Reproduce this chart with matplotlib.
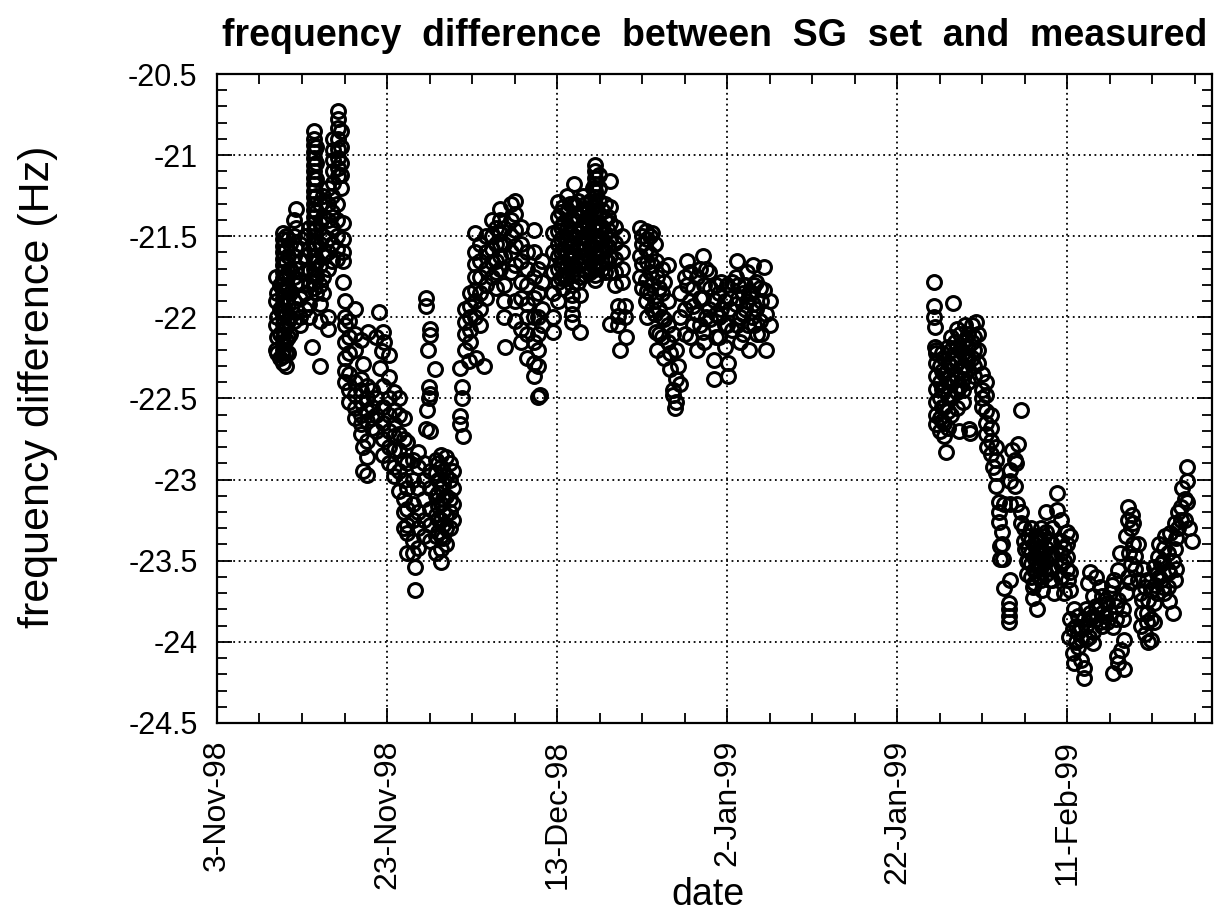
import datetime as dt

import matplotlib
matplotlib.use("Agg")
import matplotlib.pyplot as plt
from matplotlib.ticker import MultipleLocator

plt.rcParams["font.family"] = ["Liberation Sans", "DejaVu Sans"]

START = dt.datetime(1998, 11, 3)

# readings grouped by time: (days after 3-Nov-98, [frequency differences in Hz])
early_nov = [
    (6.9, [-21.75, -21.9, -22.05, -22.2]),
    (7.1, [-21.85, -22.0, -22.12, -22.22]),
    (7.4, [-21.8, -21.95, -22.1, -22.25]),
    (7.8, [-21.48, -21.52, -21.56, -21.6, -21.64, -21.68, -21.72, -21.76, -21.8, -21.84,
           -21.88, -21.92, -21.96, -22.0, -22.04, -22.08, -22.12, -22.16, -22.2, -22.24, -22.28]),
    (8.1, [-21.5, -21.58, -21.66, -21.74, -21.82, -21.9, -21.98, -22.06, -22.14, -22.22, -22.3]),
    (8.4, [-21.52, -21.62, -21.72, -21.82, -21.92, -22.02, -22.12, -22.22]),
    (8.6, [-21.55, -21.7, -21.85, -22.0, -22.1]),
    (9.0, [-21.4, -21.5, -21.62, -21.75, -21.9, -22.02]),
    (9.3, [-21.33, -21.45, -21.58, -21.7, -21.8, -21.95]),
    (9.8, [-21.55, -21.65, -21.78, -21.88, -22.0, -22.05]),
    (10.3, [-21.5, -21.62, -21.72, -21.85, -21.95]),
    (10.8, [-21.45, -21.58, -21.7, -21.8, -21.92, -22.0]),
    (11.2, [-22.18]),
    (11.4, [-20.85, -20.9, -20.94, -20.98, -21.02, -21.06, -21.1, -21.14, -21.18, -21.22,
            -21.26, -21.3, -21.34, -21.38, -21.42, -21.46, -21.5, -21.54, -21.58, -21.62,
            -21.66, -21.7, -21.74, -21.78, -21.82]),
    (11.7, [-20.95, -21.05, -21.15, -21.25, -21.35, -21.45, -21.55, -21.65, -21.75, -21.85]),
    (12.1, [-21.3, -21.42, -21.55, -21.68, -21.8, -21.92, -22.02, -22.3]),
    (12.5, [-21.25, -21.38, -21.5, -21.62, -21.75, -21.85]),
    (13.0, [-21.2, -21.3, -21.4, -21.52, -21.6, -21.7, -22.0, -22.07]),
    (13.5, [-21.25, -21.35, -21.45, -21.55, -21.65]),
    (13.7, [-20.9, -20.97, -21.03, -21.1, -21.17]),
    (14.1, [-21.3, -21.4, -21.5, -21.58, -21.64]),
    (14.2, [-20.73, -20.78, -20.83, -20.9, -20.96, -21.02, -21.08, -21.13]),
    (14.6, [-20.85, -20.95, -21.05, -21.12, -21.2]),
    (14.8, [-21.42, -21.52, -21.6, -21.65, -21.78]),
    (15.0, [-21.9]),
]

late_nov = [
    (15.0, [-22.0, -22.05, -22.15, -22.25, -22.33, -22.4]),
    (15.5, [-22.02, -22.12, -22.22, -22.35, -22.45, -22.52]),
    (16.2, [-21.95, -22.1, -22.2, -22.4, -22.48, -22.56, -22.62]),
    (16.9, [-22.14, -22.38, -22.45, -22.52, -22.6, -22.66, -22.72]),
    (17.2, [-22.29, -22.8, -22.95]),
    (17.6, [-22.42, -22.5, -22.58, -22.64, -22.76, -22.86, -22.97]),
    (17.8, [-22.09]),
    (18.2, [-22.45, -22.55, -22.62, -22.68]),
    (18.7, [-22.12, -22.5, -22.6, -22.7]),
    (19.0, [-21.97]),
    (19.2, [-22.31]),
    (19.4, [-22.21]),
    (19.5, [-22.09, -22.42, -22.55, -22.65, -22.75, -22.85]),
    (19.7, [-22.15]),
    (20.2, [-22.23, -22.37, -22.5, -22.6, -22.7, -22.8, -22.9]),
    (20.8, [-22.46, -22.57, -22.66, -22.73, -22.82, -22.92, -22.98]),
    (21.4, [-22.5, -22.6, -22.72, -22.82, -22.95, -23.07]),
    (22.0, [-22.62, -22.75, -22.88, -23.0, -23.12, -23.2, -23.3]),
    (22.4, [-22.77, -22.9, -23.05, -23.18, -23.28, -23.33, -23.45]),
    (23.0, [-22.88, -23.0, -23.15, -23.25, -23.38, -23.45]),
    (23.3, [-23.54, -23.68]),
    (23.6, [-22.83, -22.92, -23.05, -23.2, -23.3, -23.42]),
    (24.3, [-22.9, -23.0, -23.12, -23.25, -23.35]),
    (24.6, [-21.88, -21.93, -22.69]),
    (24.7, [-22.57]),
    (24.8, [-22.2]),
    (24.9, [-22.43, -22.5]),
    (25.0, [-22.47]),
    (25.1, [-22.07, -22.11, -22.7, -22.95, -23.05, -23.18, -23.28, -23.38]),
    (25.6, [-22.32]),
    (25.7, [-22.88, -22.96, -23.1, -23.22, -23.35, -23.45]),
    (26.0, [-22.9, -23.0, -23.08, -23.16, -23.24, -23.32]),
    (26.3, [-22.85, -22.92, -23.05, -23.15, -23.25, -23.35, -23.43, -23.51]),
    (26.6, [-22.95, -23.03, -23.12, -23.2, -23.28, -23.36]),
    (26.9, [-22.86, -22.98, -23.1, -23.22, -23.3, -23.4]),
    (27.4, [-22.9, -23.0, -23.12, -23.2, -23.3]),
    (27.8, [-22.95, -23.05, -23.15, -23.25]),
]

rise_dec = [
    (28.6, [-22.31, -22.61, -22.66]),
    (28.8, [-22.43, -22.5]),
    (28.9, [-22.73]),
    (29.2, [-21.95, -22.03, -22.1, -22.2]),
    (29.6, [-22.27]),
    (29.7, [-21.85, -21.93, -22.0, -22.08, -22.15]),
    (30.3, [-21.48, -21.6, -21.67, -21.75, -21.83, -21.9, -22.0]),
    (30.5, [-22.25]),
    (30.9, [-21.55, -21.65, -21.75, -21.85, -21.95, -22.05]),
    (31.4, [-22.3]),
    (31.6, [-21.5, -21.6, -21.7, -21.8, -21.88]),
    (32.3, [-21.4, -21.5, -21.58, -21.66, -21.75]),
    (32.8, [-21.45, -21.55, -21.65, -21.72, -21.82]),
    (33.3, [-21.33, -21.4, -21.48, -21.55, -21.62, -21.7]),
    (33.8, [-21.45, -21.55, -21.62, -21.8, -21.9, -22.0]),
    (33.9, [-22.18]),
    (34.6, [-21.3, -21.4, -21.5, -21.6, -21.72]),
    (35.1, [-21.28, -21.36, -21.46, -21.56, -21.68, -21.9, -22.02]),
    (35.8, [-21.44, -21.55, -21.65, -21.78, -21.88, -22.07, -22.15]),
    (36.4, [-21.6, -21.7, -21.8, -21.92, -22.0, -22.1, -22.25]),
    (37.3, [-21.46, -21.6, -21.75, -21.88, -22.0, -22.15, -22.28, -22.36]),
    (37.8, [-21.7, -21.85, -22.0, -22.1, -22.2, -22.3, -22.49]),
    (38.0, [-22.48]),
    (38.2, [-21.65, -21.78, -21.95, -22.05]),
]

mid_dec = [
    (39.5, [-21.48, -21.6, -21.72, -21.85, -22.0, -22.09]),
    (40.1, [-21.29, -21.38, -21.47, -21.55, -21.62, -21.7, -21.78, -21.9]),
    (40.4, [-21.35, -21.44, -21.52, -21.6, -21.68, -21.76]),
    (40.7, [-21.32, -21.42, -21.5, -21.58, -21.66, -21.74, -21.82]),
    (41.2, [-21.25, -21.35, -21.45, -21.52, -21.6, -21.68, -21.76]),
    (41.5, [-21.3, -21.4, -21.48, -21.56, -21.64]),
    (41.7, [-21.56, -21.62, -21.68, -21.74, -21.8, -21.86, -21.92, -21.98, -22.03]),
    (42.0, [-21.18, -21.3, -21.4, -21.5, -21.6, -21.7]),
    (42.4, [-21.28, -21.38, -21.48, -21.58, -21.68, -21.78]),
    (42.7, [-21.35, -21.45, -21.55, -21.65, -21.75, -21.86, -22.09]),
    (43.0, [-21.25, -21.34, -21.44, -21.54, -21.62, -21.7]),
    (43.3, [-21.3, -21.4, -21.5, -21.58, -21.66, -21.74]),
    (43.6, [-21.35, -21.45, -21.53, -21.61, -21.69]),
    (43.9, [-21.28, -21.38, -21.48, -21.56, -21.64, -21.72]),
    (44.2, [-21.2, -21.32, -21.44, -21.56, -21.68]),
    (44.5, [-21.06, -21.1, -21.14, -21.18, -21.22, -21.26, -21.3, -21.34, -21.38, -21.42,
            -21.46, -21.5, -21.54, -21.58, -21.62, -21.66, -21.7, -21.74, -21.77]),
    (44.9, [-21.12, -21.2, -21.28, -21.36, -21.44, -21.52, -21.6, -21.68]),
    (45.3, [-21.34, -21.44, -21.52, -21.6, -21.7]),
    (45.6, [-21.3, -21.4, -21.48, -21.56, -21.64, -21.72]),
    (46.0, [-21.38, -21.46, -21.56, -21.66]),
    (46.2, [-21.16, -21.32, -21.42, -21.52, -21.62, -21.72, -22.04]),
    (46.8, [-21.44, -21.54, -21.64, -21.72, -21.8]),
    (47.2, [-21.93, -21.99, -22.05]),
    (47.4, [-22.2]),
    (47.6, [-21.5, -21.6, -21.7, -21.78]),
    (48.0, [-21.93, -22.0]),
    (48.1, [-22.12]),
]

late_dec = [
    (49.8, [-21.45, -21.62, -21.75]),
    (50.0, [-21.5, -21.55, -21.67, -21.82]),
    (50.4, [-21.47, -21.58, -21.77, -21.9]),
    (50.6, [-21.52, -21.66, -21.84, -22.0]),
    (50.9, [-21.5, -21.61, -21.72, -21.85]),
    (51.2, [-21.48, -21.68, -21.8, -21.95]),
    (51.5, [-21.55, -21.9, -21.98]),
    (51.6, [-22.09, -21.65]),
    (51.8, [-22.2, -21.75]),
    (52.0, [-21.82, -21.95, -22.1]),
    (52.3, [-21.7, -21.85, -22.0, -22.12]),
    (52.6, [-21.78, -22.01, -22.25]),
    (53.0, [-21.68, -21.9, -22.05, -22.15]),
    (53.3, [-22.22, -22.32]),
    (53.6, [-22.45, -22.48, -22.1]),
    (53.8, [-22.56]),
    (54.0, [-22.38, -22.52, -22.2]),
    (54.2, [-22.3]),
    (54.5, [-21.85, -22.0, -22.41]),
    (55.0, [-21.75, -21.95, -22.1]),
    (55.3, [-21.65, -21.8]),
    (55.6, [-21.72, -21.9, -22.12]),
    (56.0, [-21.93, -21.82, -22.05]),
    (56.4, [-22.2, -21.75, -21.98]),
    (56.8, [-21.7, -21.88, -22.05]),
    (57.1, [-21.62, -22.09, -21.88]),
    (57.3, [-21.8, -22.15]),
    (57.5, [-22.0, -21.7]),
    (57.9, [-21.72, -21.95]),
    (58.0, [-22.01, -21.82]),
    (58.4, [-21.89, -22.26, -22.38]),
    (58.7, [-21.8, -21.98, -22.12]),
    (59.0, [-21.85, -22.0, -22.12]),
    (59.3, [-21.78, -21.95]),
    (59.7, [-21.9, -22.05, -22.18]),
    (60.0, [-21.8, -22.05]),
    (60.1, [-22.28, -22.36]),
    (60.3, [-21.95, -21.88]),
    (60.6, [-22.08, -21.78]),
    (61.0, [-21.75, -21.92]),
    (61.2, [-21.65, -22.05]),
    (61.3, [-21.88, -21.8]),
    (61.5, [-22.0, -22.15]),
    (61.8, [-21.85, -21.98, -22.1]),
    (62.1, [-21.8, -21.95]),
    (62.3, [-21.9, -21.72]),
    (62.4, [-22.05]),
    (62.6, [-22.2, -21.85]),
    (62.9, [-21.85, -22.0]),
    (63.0, [-21.68, -21.92]),
    (63.2, [-21.8, -22.05]),
    (63.4, [-21.95, -21.78]),
    (63.5, [-22.1]),
    (63.8, [-21.82, -22.02]),
    (64.0, [-22.1, -21.9]),
    (64.3, [-21.69, -21.83]),
    (64.6, [-21.98, -22.2]),
    (65.0, [-21.9, -22.05]),
]

late_jan = [
    (84.3, [-21.78, -21.93, -22.0]),
    (84.4, [-22.06, -22.18]),
    (84.5, [-22.2, -22.28, -22.36, -22.44, -22.52, -22.6]),
    (84.6, [-22.22, -22.66]),
    (85.0, [-22.3, -22.4, -22.5, -22.62, -22.7]),
    (85.2, [-22.22, -22.33, -22.44, -22.55, -22.64]),
    (85.5, [-22.25, -22.35, -22.45, -22.55, -22.65, -22.73]),
    (85.7, [-22.83]),
    (86.0, [-22.18, -22.28, -22.38, -22.48, -22.58, -22.68]),
    (86.3, [-22.12, -22.2, -22.3, -22.4, -22.5, -22.6]),
    (86.6, [-21.91]),
    (86.8, [-22.15, -22.25, -22.35, -22.45]),
    (87.0, [-22.07, -22.18, -22.28, -22.38, -22.46, -22.56]),
    (87.2, [-22.7]),
    (87.4, [-22.1, -22.2, -22.33, -22.42]),
    (87.7, [-22.15, -22.22, -22.3, -22.38, -22.45, -22.52]),
    (88.0, [-22.05, -22.14, -22.24, -22.34]),
    (88.3, [-22.1, -22.18, -22.25, -22.32, -22.4]),
    (88.4, [-22.69]),
    (88.6, [-22.71]),
    (88.8, [-22.05, -22.15, -22.25]),
    (89.0, [-22.12, -22.2, -22.3, -22.36]),
    (89.3, [-22.03]),
    (89.5, [-22.1, -22.2, -22.28]),
    (89.9, [-22.35, -22.45, -22.5, -22.55]),
    (90.4, [-22.4, -22.48, -22.58, -22.65, -22.72]),
    (90.6, [-22.8]),
    (91.0, [-22.6, -22.68, -22.76, -22.84]),
    (91.2, [-22.92]),
    (91.6, [-22.8, -22.88, -22.96, -23.04]),
    (91.9, [-23.26]),
    (92.0, [-23.14, -23.2]),
    (92.1, [-23.41, -23.49]),
    (92.3, [-23.32, -23.4]),
    (92.4, [-23.49]),
    (92.6, [-23.67, -23.15]),
    (93.1, [-23.76, -23.8, -23.84, -23.88]),
    (93.2, [-23.62]),
    (93.3, [-23.15, -22.94, -23.01]),
    (93.5, [-22.82]),
    (93.8, [-22.88, -23.04]),
    (94.0, [-22.9]),
    (94.1, [-23.15]),
    (94.2, [-22.78]),
    (94.5, [-23.27]),
    (94.6, [-23.2, -22.57]),
    (94.9, [-23.3, -23.38]),
    (95.0, [-23.43]),
    (95.2, [-23.5, -23.58]),
    (95.4, [-23.35, -23.42, -23.5]),
    (95.7, [-23.3, -23.37, -23.45, -23.52, -23.6]),
    (95.9, [-23.66, -23.73]),
    (96.1, [-23.4, -23.48, -23.56, -23.64]),
    (96.3, [-23.35, -23.42, -23.5, -23.56]),
    (96.4, [-23.8]),
    (96.6, [-23.36, -23.44, -23.52, -23.6]),
    (96.9, [-23.3, -23.38, -23.46, -23.54, -23.62]),
    (97.0, [-23.68]),
    (97.2, [-23.35, -23.45, -23.55]),
    (97.5, [-23.2, -23.32, -23.42, -23.5, -23.58]),
    (97.9, [-23.38, -23.46, -23.54, -23.62]),
    (98.2, [-23.3, -23.4, -23.48, -23.55, -23.62]),
    (98.4, [-23.7]),
]

feb = [
    (98.8, [-23.08, -23.19]),
    (99.2, [-23.25]),
    (99.3, [-23.38, -23.45, -23.52, -23.6]),
    (99.6, [-23.7, -23.42, -23.5]),
    (99.9, [-23.32, -23.4, -23.48]),
    (100.0, [-23.55]),
    (100.1, [-23.62]),
    (100.2, [-23.97]),
    (100.3, [-23.35, -23.57, -23.68, -23.86]),
    (100.6, [-24.07, -23.92]),
    (100.8, [-24.13, -23.8]),
    (101.0, [-23.9, -24.0]),
    (101.3, [-24.03, -23.94, -23.84]),
    (101.6, [-24.11, -23.91, -23.98]),
    (101.9, [-24.16, -24.22, -23.86]),
    (102.2, [-23.8, -23.9, -23.98]),
    (102.4, [-23.64]),
    (102.5, [-23.97, -23.86]),
    (102.7, [-23.82, -23.57]),
    (103.0, [-23.94, -24.01, -23.72, -23.84]),
    (103.4, [-23.86, -23.6, -23.78]),
    (103.8, [-23.78, -23.66, -23.88]),
    (104.1, [-23.72, -23.82, -23.9]),
    (104.4, [-23.74, -23.84]),
    (104.7, [-23.88, -23.76]),
    (105.0, [-23.82, -23.7]),
    (105.2, [-23.65]),
    (105.4, [-23.91, -24.19]),
    (105.5, [-23.62]),
    (105.7, [-23.78, -23.86]),
    (105.8, [-24.09]),
    (106.0, [-24.13, -23.56, -23.74]),
    (106.2, [-23.45]),
    (106.3, [-24.05]),
    (106.5, [-23.8, -23.86]),
    (106.6, [-23.99, -24.17]),
    (106.9, [-23.35, -23.7]),
    (107.1, [-23.17, -23.25, -23.6]),
    (107.3, [-23.45]),
    (107.4, [-23.63]),
    (107.5, [-23.3, -23.52]),
    (107.6, [-23.22]),
    (107.7, [-23.27, -23.4]),
    (108.0, [-23.55, -23.47]),
    (108.3, [-23.4, -23.62]),
    (108.5, [-23.7]),
    (108.6, [-23.9]),
    (108.8, [-23.74, -23.82]),
    (108.9, [-23.55]),
    (109.1, [-23.95, -23.66]),
    (109.3, [-23.62, -23.88]),
    (109.4, [-23.82]),
    (109.5, [-24.0, -23.74]),
    (109.8, [-23.99, -23.68, -23.86]),
    (110.2, [-23.88, -23.76, -23.54]),
    (110.3, [-23.65]),
    (110.5, [-23.58, -23.7]),
    (110.7, [-23.48]),
    (110.8, [-23.4, -23.6]),
    (111.0, [-23.62, -23.52]),
    (111.2, [-23.5, -23.66]),
    (111.4, [-23.7, -23.42]),
    (111.5, [-23.35]),
    (111.8, [-23.45, -23.56, -23.66]),
    (112.0, [-23.57, -23.75]),
    (112.1, [-23.33]),
    (112.4, [-23.82, -23.5]),
    (112.6, [-23.62, -23.27, -23.43]),
    (112.8, [-23.36, -23.55]),
    (113.0, [-23.2, -23.3]),
    (113.4, [-23.17, -23.25]),
    (113.5, [-23.05]),
    (113.8, [-23.12, -23.25]),
    (114.1, [-23.14, -22.92, -23.01]),
    (114.3, [-23.3]),
    (114.7, [-23.38]),
]

SEGMENTS = [early_nov, late_nov, rise_dec, mid_dec, late_dec, late_jan, feb]


def flatten(groups):
    xs, ys = [], []
    for day, vals in groups:
        for v in vals:
            xs.append(START + dt.timedelta(days=day))
            ys.append(v)
    return xs, ys


fig = plt.figure(figsize=(12.23, 9.17), dpi=100)
ax = fig.add_axes([0.1774, 0.2116, 0.8136, 0.7077])

for seg in SEGMENTS:
    x, y = flatten(seg)
    ax.plot(x, y, linestyle="none", marker="o", markersize=10,
            markerfacecolor="none", markeredgecolor="black", markeredgewidth=2.2)

ax.set_xlim(START, START + dt.timedelta(days=117))
ax.set_ylim(-24.5, -20.5)

tick_dates = [START + dt.timedelta(days=20 * i) for i in range(6)]
ax.set_xticks(tick_dates)
ax.set_xticklabels([f"{d.day}-{d.strftime('%b')}-{d.strftime('%y')}" for d in tick_dates],
                   rotation=90, fontsize=23)
ax.set_xticks([START + dt.timedelta(days=5 * i) for i in range(24)], minor=True)

ax.yaxis.set_major_locator(MultipleLocator(0.5))
ax.yaxis.set_minor_locator(MultipleLocator(0.1))
ax.set_yticklabels([f"{v:g}" for v in ax.get_yticks()], fontsize=22)

ax.tick_params(which="both", direction="in", top=True, right=True, width=1.3)
ax.tick_params(which="major", length=11)
ax.tick_params(which="minor", length=7)
ax.tick_params(axis="y", which="major", pad=14)
ax.tick_params(axis="x", which="major", pad=12)
for sp in ax.spines.values():
    sp.set_linewidth(1.6)

ax.grid(True, which="major", linestyle=(0, (1, 2)), color="black", linewidth=1.3)

# axis labels placed by hand: "date" sits just under the rotated tick labels
fig.text(0.579, 0.013, "date", fontsize=27, ha="center", va="baseline")
fig.text(0.031, 0.578, "frequency difference (Hz)", fontsize=31,
         rotation=90, ha="center", va="center")
ax.set_title("frequency  difference  between  SG  set  and  measured",
             fontsize=27, fontweight="bold", pad=20)

fig.savefig("out.png", dpi=100)
